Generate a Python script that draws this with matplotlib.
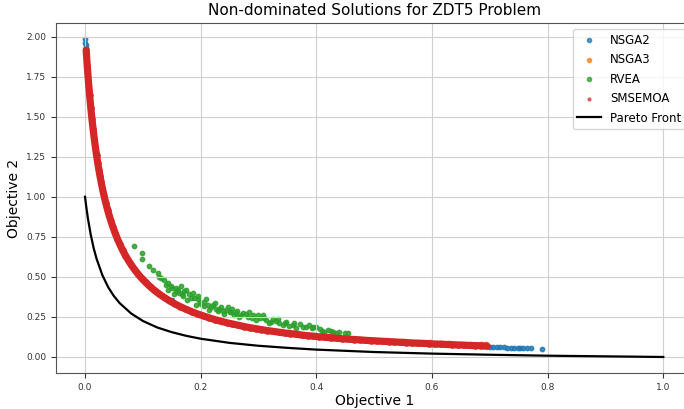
import numpy as np
import matplotlib
matplotlib.use("Agg")
import matplotlib.pyplot as plt

# ==========================================
# Data
# ==========================================
# SMSEMOA (red, dense band)
sms_x = [0.002, 0.004, 0.006, 0.008, 0.010, 0.012, 0.014, 0.016, 0.018, 0.020,
         0.022, 0.024, 0.026, 0.028, 0.030, 0.033, 0.036, 0.039, 0.042, 0.045,
         0.048, 0.052, 0.056, 0.060, 0.065, 0.070, 0.075, 0.080, 0.086, 0.092,
         0.098, 0.105, 0.112, 0.120, 0.128, 0.136, 0.145, 0.155, 0.165, 0.175,
         0.185, 0.195, 0.205, 0.215, 0.225, 0.235, 0.245, 0.255, 0.265, 0.275,
         0.285, 0.295, 0.305, 0.315, 0.325, 0.335, 0.345, 0.355, 0.365, 0.375,
         0.385, 0.395, 0.405, 0.415, 0.425, 0.435, 0.445, 0.455, 0.465, 0.475,
         0.485, 0.495, 0.505, 0.515, 0.525, 0.535, 0.545, 0.555, 0.565, 0.575,
         0.585, 0.595, 0.605, 0.615, 0.625, 0.635, 0.645, 0.655, 0.665, 0.675,
         0.685, 0.695]
sms_y = [1.916, 1.812, 1.718, 1.633, 1.556, 1.486, 1.422, 1.363, 1.309, 1.258,
         1.212, 1.168, 1.128, 1.090, 1.054, 1.005, 0.960, 0.919, 0.881, 0.846,
         0.814, 0.774, 0.738, 0.705, 0.667, 0.633, 0.603, 0.575, 0.544, 0.516,
         0.491, 0.465, 0.441, 0.416, 0.394, 0.374, 0.353, 0.332, 0.314, 0.297,
         0.282, 0.268, 0.256, 0.244, 0.233, 0.223, 0.214, 0.206, 0.198, 0.190,
         0.183, 0.177, 0.171, 0.165, 0.160, 0.155, 0.150, 0.146, 0.142, 0.137,
         0.133, 0.130, 0.126, 0.123, 0.120, 0.117, 0.114, 0.112, 0.109, 0.107,
         0.104, 0.102, 0.100, 0.098, 0.096, 0.094, 0.092, 0.090, 0.088, 0.086,
         0.085, 0.083, 0.081, 0.080, 0.078, 0.077, 0.075, 0.074, 0.072, 0.071,
         0.070, 0.068]

# NSGA2 (blue): top tip, a few along the band, and the tail past 0.7
nsga2_x = [0.000, 0.0005, 0.001, 0.0015, 0.020, 0.060, 0.150, 0.300, 0.450,
           0.600, 0.690, 0.700, 0.705, 0.712, 0.718, 0.724, 0.730, 0.736, 0.742,
           0.748, 0.753, 0.758, 0.764, 0.772, 0.790]
nsga2_y = [1.985, 1.960, 1.945, 1.930, 1.262, 0.708, 0.356, 0.172, 0.114,
           0.083, 0.070, 0.064, 0.063, 0.062, 0.061, 0.060, 0.059, 0.058, 0.058,
           0.057, 0.056, 0.056, 0.055, 0.054, 0.052]

# NSGA3 (orange): mostly hidden under the red band, some visible above it
nsga3_x = [0.010, 0.050, 0.120, 0.250, 0.400, 0.500, 0.532, 0.550, 0.575,
           0.596, 0.615, 0.630, 0.648, 0.666, 0.674, 0.685, 0.694]
nsga3_y = [1.560, 0.790, 0.420, 0.212, 0.130, 0.104, 0.100, 0.099, 0.093,
           0.092, 0.088, 0.085, 0.082, 0.078, 0.076, 0.078, 0.080]

# RVEA (green): scattered slightly above the band
rvea_x = [0.085, 0.099, 0.098, 0.110, 0.117, 0.127, 0.128, 0.137, 0.143, 0.148,
          0.144, 0.154, 0.157, 0.163, 0.166, 0.172, 0.180, 0.177, 0.186, 0.189,
          0.192, 0.198, 0.206, 0.212, 0.215, 0.221, 0.226, 0.235, 0.244, 0.250,
          0.252, 0.255, 0.261, 0.267, 0.273, 0.281, 0.284, 0.290, 0.296, 0.302,
          0.307, 0.313, 0.319, 0.325, 0.331, 0.336, 0.342, 0.348, 0.359, 0.365,
          0.371, 0.383, 0.388, 0.394, 0.406, 0.414, 0.420, 0.429, 0.434, 0.449,
          0.455, 0.160, 0.170, 0.195, 0.205, 0.230, 0.240, 0.258,
          0.132, 0.140, 0.151, 0.158, 0.168, 0.175, 0.183, 0.196, 0.201, 0.209,
          0.218, 0.224, 0.232, 0.238, 0.247, 0.263, 0.270, 0.278, 0.288, 0.299,
          0.310, 0.322, 0.334, 0.345, 0.352, 0.362, 0.377, 0.392, 0.400, 0.410,
          0.425, 0.440]
rvea_y = [0.694, 0.648, 0.610, 0.565, 0.540, 0.527, 0.500, 0.480, 0.460, 0.440,
          0.415, 0.390, 0.430, 0.400, 0.440, 0.410, 0.390, 0.356, 0.400, 0.370,
          0.325, 0.346, 0.346, 0.325, 0.294, 0.325, 0.300, 0.310, 0.294, 0.283,
          0.283, 0.300, 0.272, 0.252, 0.272, 0.252, 0.283, 0.262, 0.231, 0.242,
          0.262, 0.231, 0.210, 0.235, 0.227, 0.214, 0.200, 0.221, 0.200, 0.179,
          0.206, 0.185, 0.200, 0.190, 0.173, 0.158, 0.169, 0.158, 0.152, 0.152,
          0.152, 0.420, 0.380, 0.360, 0.320, 0.290, 0.270, 0.265,
          0.490, 0.450, 0.430, 0.410, 0.390, 0.420, 0.370, 0.380, 0.330, 0.360,
          0.310, 0.335, 0.300, 0.285, 0.310, 0.290, 0.260, 0.270, 0.245, 0.260,
          0.245, 0.220, 0.235, 0.210, 0.195, 0.210, 0.190, 0.178, 0.185, 0.165,
          0.162, 0.155]

# Pareto front (black line)
pf_x = [0.000, 0.002, 0.005, 0.010, 0.015, 0.020, 0.030, 0.040, 0.050, 0.060,
        0.080, 0.100, 0.125, 0.150, 0.175, 0.200, 0.250, 0.300, 0.350, 0.400,
        0.500, 0.600, 0.700, 0.800, 0.900, 1.000]
pf_y = [1.000, 0.942, 0.865, 0.762, 0.679, 0.613, 0.511, 0.436, 0.380, 0.336,
        0.271, 0.225, 0.184, 0.155, 0.132, 0.114, 0.088, 0.070, 0.057, 0.046,
        0.031, 0.021, 0.014, 0.008, 0.004, 0.000]

RED = '#d62728'

# ==========================================
# Plot
# ==========================================
fig = plt.figure(figsize=(6.84, 4.09), dpi=100)
ax = fig.add_axes([0.082, 0.088, 0.930, 0.856])

ax.scatter(nsga2_x, nsga2_y, s=10, color='tab:blue', alpha=0.85, label='NSGA2')
ax.scatter(nsga3_x, nsga3_y, s=10, color='tab:orange', alpha=0.85, label='NSGA3')
ax.scatter(rvea_x, rvea_y, s=10, color='tab:green', alpha=0.85, label='RVEA')
# the SMSEMOA points overlap into one solid band in the reference
ax.plot(sms_x, sms_y, color=RED, lw=5.2, solid_capstyle='round', zorder=2.1)
ax.scatter(sms_x, sms_y, s=22, color=RED, linewidths=0, label='SMSEMOA', zorder=2.2)
ax.plot(pf_x, pf_y, color='black', lw=1.6, label='Pareto Front', zorder=2.3)

ax.set_xlim(-0.05, 1.05)
ax.set_ylim(-0.10, 2.085)
ax.set_title("Non-dominated Solutions for ZDT5 Problem", fontsize=11)
ax.set_xlabel("Objective 1", fontsize=10, labelpad=1.5)
ax.set_ylabel("Objective 2", fontsize=10)
ax.tick_params(labelsize=6.5, colors='#333333')
ax.grid(True, color='#cfcfcf', lw=0.8)
for sp in ax.spines.values():
    sp.set_color('#555555')

leg = ax.legend(loc='upper right', fontsize=8.5, labelspacing=0.55)
for h in leg.legend_handles:
    if hasattr(h, 'set_sizes'):
        h.set_sizes([9])
        h.set_alpha(0.75)

fig.savefig("out.png", dpi=100)
